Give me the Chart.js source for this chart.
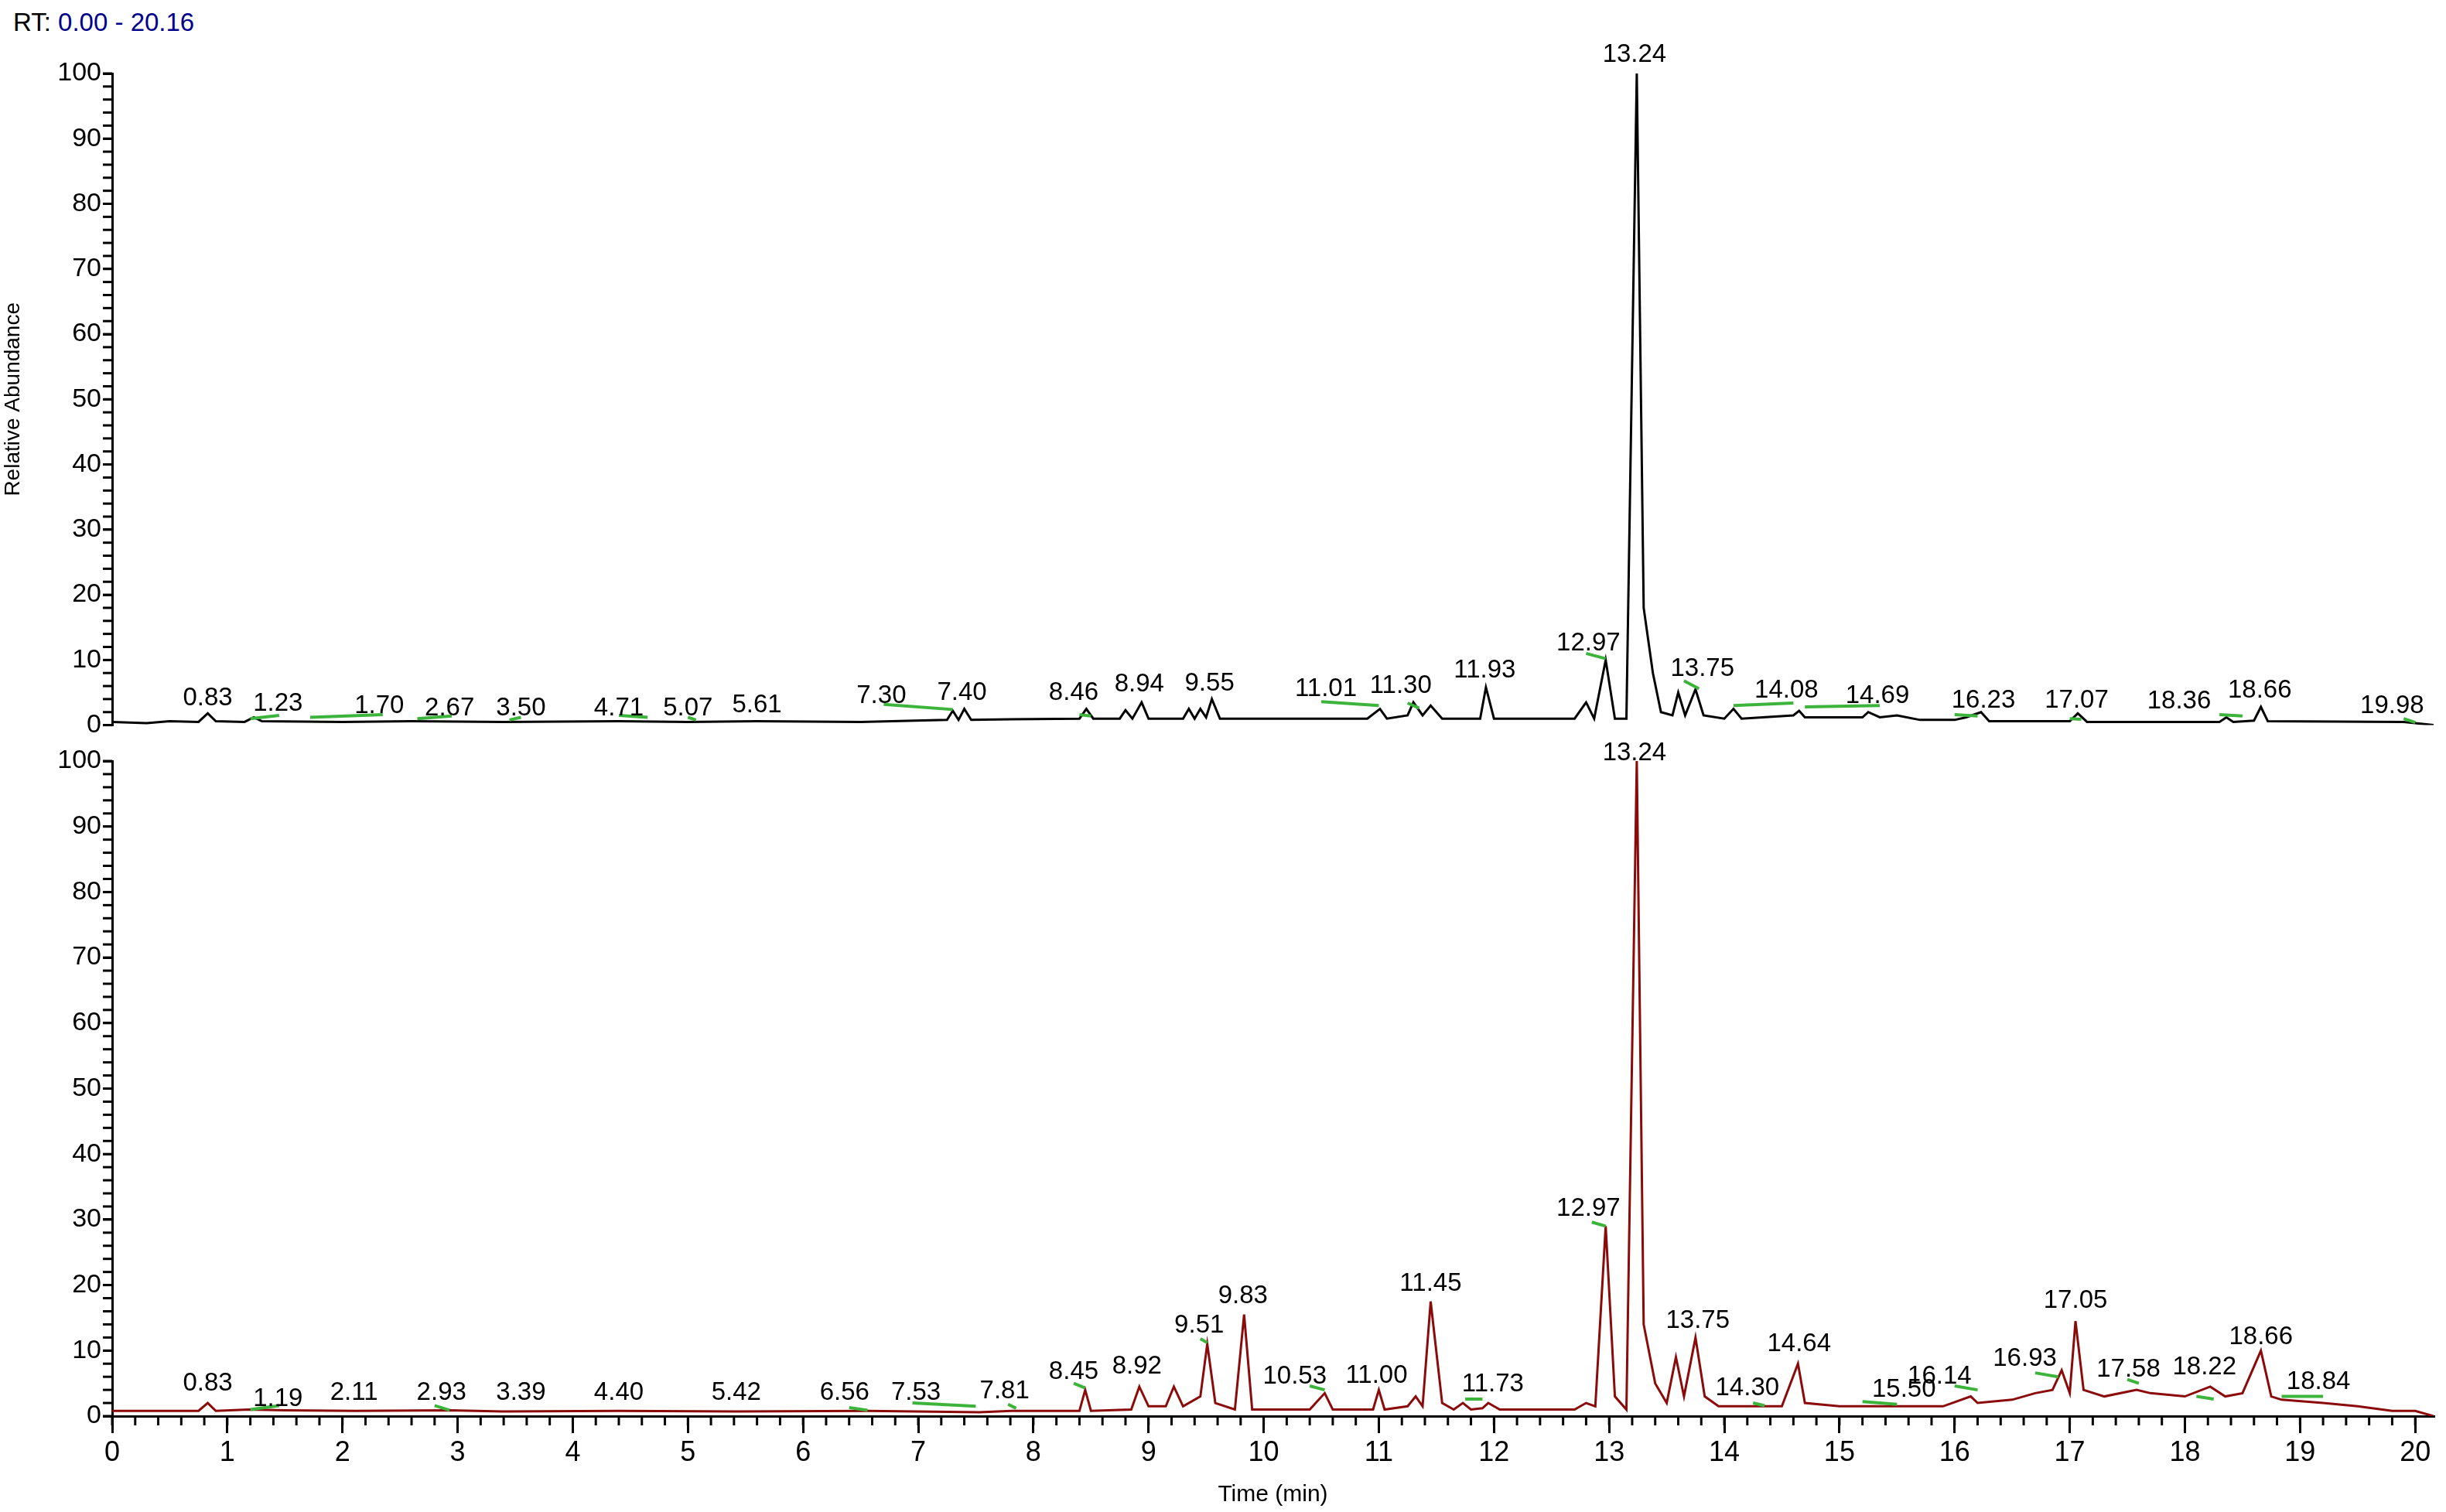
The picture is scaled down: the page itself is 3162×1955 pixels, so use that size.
<!DOCTYPE html>
<html><head><meta charset="utf-8">
<script src="https://cdn.jsdelivr.net/npm/chart.js@4"></script>
<style>body{margin:0;background:#fff;width:3162px;height:1955px;position:relative;overflow:hidden}
canvas{position:absolute;left:0}
#rt{position:absolute;left:17px;top:10px;font:33px "Liberation Sans",Arial,sans-serif;color:#000}
#rt span{color:#00008b}</style></head><body>
<div id="rt">RT: <span>0.00 - 20.16</span></div>
<canvas id="c1" width="3162" height="960" style="top:0;width:3162px;height:960px"></canvas>
<canvas id="c2" width="3162" height="995" style="top:960px;width:3162px;height:995px"></canvas>
<script>
const topT=[0,0.3,0.5,0.75,0.83,0.9,1.15,1.23,1.3,2.0,2.6,3.4,4.4,5.0,5.6,6.5,7.25,7.30,7.35,7.40,7.46,7.8,8.40,8.46,8.52,8.75,8.80,8.86,8.94,9.0,9.3,9.35,9.4,9.45,9.5,9.55,9.62,10.3,10.9,11.01,11.07,11.25,11.30,11.38,11.45,11.55,11.88,11.93,12.0,12.7,12.8,12.87,12.97,13.05,13.15,13.24,13.3,13.38,13.45,13.55,13.6,13.66,13.75,13.82,14.0,14.08,14.15,14.6,14.65,14.7,15.2,15.25,15.35,15.5,15.7,16.0,16.1,16.23,16.3,17.0,17.07,17.15,18.3,18.36,18.42,18.6,18.66,18.72,19.9,20.0,20.16];
const topV=[0.5,0.3,0.6,0.5,1.8,0.6,0.5,1.2,0.6,0.5,0.6,0.5,0.6,0.5,0.6,0.5,0.8,2.2,0.8,2.5,0.8,0.9,1,2.5,1,1,2.3,1,3.5,1,1,2.5,1,2.5,1.2,4,1,1,1,2.5,1,1.5,3.5,1.5,3,1,1,5.8,1,1,3.5,1,10,1,1,100,18,8,2,1.5,5,1.5,5.5,1.5,1,2.5,1,1.5,2.2,1.2,1.2,2,1.2,1.5,0.8,0.8,1.2,2,0.6,0.6,1.8,0.5,0.5,1.2,0.5,0.7,2.8,0.6,0.5,0.3,0];
const botT=[0,0.75,0.83,0.9,1.19,1.5,2.11,2.93,3.39,4.40,5.42,6.56,7.53,7.81,8.4,8.45,8.5,8.85,8.92,9.0,9.15,9.22,9.3,9.45,9.51,9.58,9.75,9.83,9.9,10.4,10.53,10.6,10.95,11.00,11.05,11.25,11.32,11.38,11.45,11.55,11.65,11.73,11.8,11.9,11.95,12.05,12.7,12.8,12.88,12.97,13.05,13.15,13.24,13.3,13.4,13.5,13.58,13.65,13.75,13.83,13.95,14.3,14.5,14.64,14.7,15.0,15.5,15.9,16.14,16.2,16.5,16.7,16.85,16.93,17.0,17.05,17.12,17.3,17.58,17.7,18.0,18.22,18.35,18.5,18.66,18.75,18.84,19.2,19.5,19.8,20.0,20.16];
const botV=[0.8,0.8,2,0.8,1,0.9,0.8,0.9,0.7,0.8,0.7,0.8,0.6,0.8,0.8,4,0.8,1,4.5,1.5,1.5,4.5,1.5,3,11,2,1,15.5,1,1,3.5,1,1,4,1,1.5,3,1.5,17.5,2,1,2,1,1.2,2,1,1,2,1.5,29,3,1,100,14,5,2,9,3,12,3,1.5,1.5,1.5,8,2,1.5,1.5,1.5,3,2,2.5,3.5,4,7,3.5,14.5,4,3,4,3.5,3,4.5,3,3.5,10,3,2.5,2,1.5,0.8,0.8,0];
const xTickLabels=[0,1,2,3,4,5,6,7,8,9,10,11,12,13,14,15,16,17,18,19,20];
const topLabText=["0.83","1.23","1.70","2.67","3.50","4.71","5.07","5.61","7.30","7.40","8.46","8.94","9.55","11.01","11.30","11.93","12.97","13.24","13.75","14.08","14.69","16.23","17.07","18.36","18.66","19.98"];
const topLabT=[0.83,1.44,2.32,2.93,3.55,4.40,5.0,5.60,6.68,7.38,8.35,8.92,9.53,10.54,11.19,11.92,12.82,13.22,13.81,14.54,15.33,16.25,17.06,17.95,18.65,19.80];
const topLabV=[4.1,3.3,2.9,2.6,2.6,2.6,2.6,3.1,4.5,5.0,5.0,6.2,6.4,5.5,6.0,8.4,12.6,102.9,8.6,5.3,4.5,3.8,3.8,3.6,5.3,2.9];
const botLabText=["0.83","1.19","2.11","2.93","3.39","4.40","5.42","6.56","7.53","7.81","8.45","8.92","9.51","9.83","10.53","11.00","11.45","11.73","12.97","13.24","13.75","14.30","14.64","15.50","16.14","16.93","17.05","17.58","18.22","18.66","18.84"];
const botLabT=[0.83,1.44,2.10,2.86,3.55,4.40,5.42,6.36,6.98,7.75,8.35,8.90,9.44,9.82,10.27,10.98,11.45,11.99,12.82,13.22,13.77,14.20,14.65,15.56,15.87,16.61,17.05,17.51,18.17,18.66,19.16];
const botLabV=[5.0,2.6,3.6,3.6,3.6,3.6,3.6,3.6,3.6,3.8,6.7,7.6,13.8,18.3,6.0,6.2,20.2,4.8,31.7,101.2,14.5,4.3,11.0,4.0,6.0,8.8,17.6,7.1,7.4,12.1,5.2];
const topGreen=[[1.2,1.0,1.45,1.5],[1.72,1.2,2.35,1.6],[2.65,1.0,2.95,1.4],[3.45,0.8,3.55,1.2],[4.4,1.5,4.65,1.2],[5.0,1.2,5.07,0.8],[6.7,3.2,7.3,2.4],[8.4,1.6,8.5,1.4],[10.5,3.6,11.0,3.0],[11.25,3.4,11.35,2.6],[12.8,11.0,12.97,10.2],[13.65,6.8,13.78,5.6],[14.08,3.0,14.6,3.4],[14.7,2.8,15.35,3.0],[16.0,1.6,16.2,1.4],[17.0,1.0,17.1,0.9],[18.3,1.6,18.5,1.4],[19.9,1.0,20.0,0.4]];
const botGreen=[[1.2,1.0,1.45,1.6],[2.8,1.6,2.93,0.9],[6.4,1.3,6.56,0.9],[6.95,2.0,7.5,1.5],[7.78,1.8,7.85,1.2],[8.35,5.0,8.45,4.3],[9.45,11.8,9.51,11.2],[10.4,4.6,10.53,4.0],[11.75,2.6,11.9,2.6],[12.85,29.6,12.97,29.0],[14.25,2.0,14.35,1.6],[15.2,2.2,15.5,1.8],[16.0,4.6,16.2,4.0],[16.7,6.6,16.9,6.0],[17.5,5.6,17.6,5.0],[18.1,3.0,18.25,2.6],[18.84,3.0,19.2,3.0]];

const FONT='"Liberation Sans Narrow","Liberation Sans",Arial,sans-serif';
function ann(labT,labV,labText,green){
  return {id:'ann',afterDraw(ch){
    const c=ch.ctx,x=ch.scales.x,y=ch.scales.y;
    c.save();
    c.strokeStyle='#000';c.lineWidth=3;
    for(let v=0;v<=100;v+=2){const py=y.getPixelForValue(v);c.beginPath();c.moveTo(y.right-12,py);c.lineTo(y.right,py);c.stroke();}
    if(x.options.display){for(let i=0;i<=100;i++){const t=i*0.2;if(t>20.16)break;const px=x.getPixelForValue(t);c.beginPath();c.moveTo(px,x.top);c.lineTo(px,x.top+12);c.stroke();}}
    c.strokeStyle='#3cb43c';c.lineWidth=4;
    green.forEach(g=>{c.beginPath();c.moveTo(x.getPixelForValue(g[0]),y.getPixelForValue(g[1]));c.lineTo(x.getPixelForValue(g[2]),y.getPixelForValue(g[3]));c.stroke();});
    c.fillStyle='#000';c.font='33px '+FONT;c.textAlign='center';c.textBaseline='middle';
    labText.forEach((s,i)=>c.fillText(s,x.getPixelForValue(labT[i]),y.getPixelForValue(labV[i])));
    c.restore();
  }};
}
function mk(id,T,V,color,labT,labV,labText,green,isBottom){
  const data=T.map((t,i)=>({x:t,y:V[i]}));
  return new Chart(document.getElementById(id),{type:'line',
    data:{datasets:[{data,borderColor:color,borderWidth:3,pointRadius:0,tension:0,fill:false}]},
    options:{responsive:false,animation:false,devicePixelRatio:1,
      layout:{padding:{top:isBottom?24:95,right:16,bottom:isBottom?0:20,left:0}},
      plugins:{legend:{display:false},tooltip:{enabled:false}},
      scales:{
        x:{type:'linear',min:0,max:20.16,display:isBottom,
          afterFit(s){if(isBottom)s.height=124;},
          afterBuildTicks(s){s.ticks=xTickLabels.map(v=>({value:v}));},
          ticks:{autoSkip:false,maxRotation:0,color:'#000',font:{size:36,family:FONT},padding:4},
          grid:{drawOnChartArea:false,tickLength:22,color:'#000',lineWidth:3},
          border:{color:'#000',width:3},
          title:{display:true,text:'Time (min)',color:'#000',font:{size:30,family:'"Liberation Sans",Arial,sans-serif'},padding:{top:0}}},
        y:{min:0,max:100,
          afterFit(s){s.width=145;},
          ticks:{stepSize:10,color:'#000',font:{size:34,family:FONT},padding:2},
          grid:{drawOnChartArea:false,tickLength:12,color:'#000',lineWidth:3},
          border:{color:'#000',width:3},
          title:{display:!isBottom,text:'Relative Abundance',color:'#000',font:{size:28,family:'"Liberation Sans",Arial,sans-serif'},padding:0}}
      }},
    plugins:[ann(labT,labV,labText,green)]});
}
mk('c1',topT,topV,'#000000',topLabT,topLabV,topLabText,topGreen,false);
mk('c2',botT,botV,'#8b0a0a',botLabT,botLabV,botLabText,botGreen,true);
</script></body></html>
